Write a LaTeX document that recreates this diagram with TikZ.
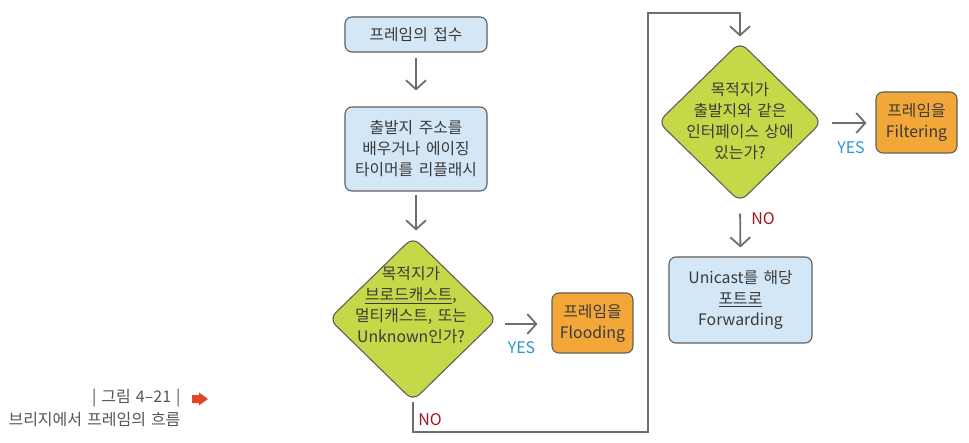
\documentclass[tikz,border=0pt]{standalone}
\usepackage{fontspec}
\setmainfont{Noto Sans CJK KR}
\usetikzlibrary{arrows.meta,shapes.geometric}
\definecolor{boxblue}{HTML}{D4E7F6}
\definecolor{dgreen}{HTML}{C6D847}
\definecolor{orng}{HTML}{F4A739}
\definecolor{edge}{HTML}{5E5E5E}
\definecolor{txt}{HTML}{3A3A3A}
\definecolor{yesblue}{HTML}{2B95CF}
\definecolor{nored}{HTML}{A3161E}
\definecolor{arrgray}{HTML}{6E6E6E}
\definecolor{capgray}{HTML}{555555}
\definecolor{capred}{HTML}{E2452C}
\newcommand{\mainfnt}{\fontsize{15.8}{21}\selectfont\spaceskip=5.5pt plus 1pt\relax}
\newcommand{\capfnt}{\fontsize{16}{18}\selectfont\spaceskip=5pt plus 1pt\relax}
\begin{document}
\begin{tikzpicture}[x=1pt,y=-1pt,
  every node/.style={text=txt, font=\mainfnt},
  box/.style={draw=edge, line width=1.1pt, rounded corners=7pt, align=center, inner sep=0pt},
  bluebox/.style={box, fill=boxblue},
  orbox/.style={box, fill=orng},
  dia/.style={diamond, draw=edge, line width=1.1pt, fill=dgreen, rounded corners=9pt, inner sep=0pt},
  arr/.style={draw=arrgray, line width=1.8pt, -{Straight Barb[length=9pt,width=20pt,line width=1.8pt]}},
  yes/.style={text=yesblue, font=\fontsize{16}{18}\selectfont},
  nolab/.style={text=nored, font=\fontsize{16}{18}\selectfont},
  captxt/.style={text=capgray, font=\capfnt}
]
\useasboundingbox (0,0) rectangle (969,443);

% nodes
\node[bluebox, minimum width=142pt, minimum height=35pt] (b1) at (416,34.5) {프레임의 접수};
\node[bluebox, minimum width=142pt, minimum height=84pt] (b2) at (416,149) {출발지 주소를\\배우거나 에이징\\타이머를 리플래시};
\node[dia, minimum width=168pt, minimum height=164pt] (d1) at (413,319) {};
\node[align=center] (d1t) at (411,305) {목적지가\\\underline{브로드캐스트},\\멀티캐스트, 또는\\Unknown인가?};
\node[orbox, minimum width=81pt, minimum height=60pt] (fl) at (592.5,323) {프레임을\\Flooding};
\node[dia, minimum width=164pt, minimum height=160pt] (d2) at (740,122) {};
\node[align=center] (d2t) at (740,121) {목적지가\\출발지와 같은\\인터페이스 상에\\있는가?};
\node[orbox, minimum width=81pt, minimum height=61pt] (fi) at (916.5,122.5) {프레임을\\Filtering};
\node[bluebox, minimum width=143pt, minimum height=86pt] (un) at (740.5,300) {Unicast를 해당\\\underline{포트로}\\Forwarding};

\coordinate (lb) at (648,432);
\coordinate (lt) at (648,13);

% connectors
\draw[arr, shorten <=5pt, shorten >=16pt] (b1) -- (b2);
\draw[arr, shorten <=3pt, shorten >=6pt] (b2.south) -- (b2.south |- d1.north);
\draw[arr] ([shift={(7,5)}]d1.east) -- ([shift={(-14,1)}]fl.west);
\draw[arr, shorten >=5pt] (d1.south) |- (lb) -- (lt) -| (d2.north);
\draw[arr] ([shift={(9,1)}]d2.east) -- ([shift={(-9,0.5)}]fi.west);
\draw[arr, shorten <=11pt, shorten >=9pt] (d2.south) -- (un.north);

% labels
\node[yes] (y1) at (521.5,347.5) {YES};
\node[nolab] (n1) at (430,420) {NO};
\node[yes] (y2) at (851,148) {YES};
\node[nolab] (n2) at (763,219) {NO};

% caption
\node[captxt, anchor=east] (c1) at (184,398) {| 그림 4–21 |};
\node[captxt, anchor=west] (c2) at (5,420) {브리지에서 프레임의 흐름};
\fill[capred] (192,395) -- (199,395) -- (199,392.5) -- (208,399) -- (199,405.5) -- (199,403) -- (192,403) -- cycle;
\end{tikzpicture}
\end{document}
